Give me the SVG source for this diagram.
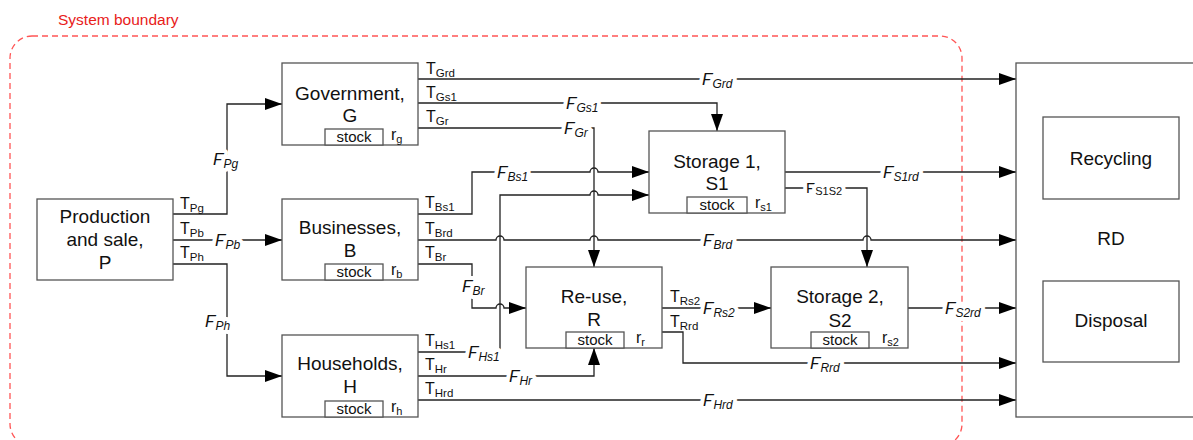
<svg xmlns="http://www.w3.org/2000/svg" width="1193" height="440" viewBox="0 0 1193 440">
<style>
text{font-family:"Liberation Sans",Arial,Helvetica,sans-serif;fill:#111}
.box{fill:#fff;stroke:#555;stroke-width:1.3}
.ttl{font-size:19px;text-anchor:middle}
.stk{font-size:15px;text-anchor:middle}
.t{font-size:16px}
.r{font-size:16px}
.f{font-size:17px;font-style:italic;stroke:#fff;stroke-width:8;paint-order:stroke;stroke-linejoin:round}
.ln{fill:none;stroke:#222;stroke-width:1.3}
.arr{marker-end:url(#ah)}
</style>
<defs>
<marker id="ah" markerUnits="userSpaceOnUse" markerWidth="18" markerHeight="12" refX="17" refY="6" orient="auto">
<path d="M0,0 L17,6 L0,12 Z" fill="#000"/>
</marker>
</defs>
<g id="boundary">
<rect x="10" y="36" width="952" height="410" rx="22" fill="none" stroke="#f55" stroke-width="1.3" stroke-dasharray="6,4"/>
<text x="58" y="25" font-size="15.5px" style="fill:#e8201a">System boundary</text>
</g>
<g id="connectors">
<path class="ln arr" d="M173,214 H227 V104 H282"/>
<path class="ln arr" d="M173,240 H282"/>
<path class="ln arr" d="M173,264 H227 V376 H282"/>
<path class="ln arr" d="M418,79 H1016"/>
<path class="ln arr" d="M418,103 H717 V131"/>
<path class="ln arr" d="M418,128 H594 V267"/>
<path class="ln arr" d="M418,214 H472 V172 H590 A4,4 0 0 1 598,172 H649"/>
<path class="ln arr" d="M418,240 H496 A4,4 0 0 1 504,240 H590 A4,4 0 0 1 598,240 H863 A4,4 0 0 1 871,240 H1016"/>
<path class="ln arr" d="M418,264 H472 V308 H496 A4,4 0 0 1 504,308 H526"/>
<path class="ln arr" d="M418,352 H500 V195 H590 A4,4 0 0 1 598,195 H649"/>
<path class="ln arr" d="M418,376 H594 V348"/>
<path class="ln arr" d="M418,400 H1016"/>
<path class="ln arr" d="M662,308 H771"/>
<path class="ln arr" d="M662,332 H683 V363 H1016"/>
<path class="ln arr" d="M785,172 H1016"/>
<path class="ln arr" d="M785,188 H867 V267"/>
<path class="ln arr" d="M908,308 H1016"/>
<!-- flow labels -->
<text class="f" x="213" y="165">F<tspan font-size="12" dy="3">Pg</tspan></text>
<text class="f" x="215" y="246">F<tspan font-size="12" dy="3">Pb</tspan></text>
<text class="f" x="205" y="327">F<tspan font-size="12" dy="3">Ph</tspan></text>
<text class="f" x="702" y="85">F<tspan font-size="12" dy="3">Grd</tspan></text>
<text class="f" x="566" y="109">F<tspan font-size="12" dy="3">Gs1</tspan></text>
<text class="f" x="564" y="134">F<tspan font-size="12" dy="3">Gr</tspan></text>
<text class="f" x="497" y="178">F<tspan font-size="12" dy="3">Bs1</tspan></text>
<text class="f" x="703" y="246">F<tspan font-size="12" dy="3">Brd</tspan></text>
<text class="f" x="462" y="292">F<tspan font-size="12" dy="3">Br</tspan></text>
<text class="f" x="468" y="358">F<tspan font-size="12" dy="3">Hs1</tspan></text>
<text class="f" x="509" y="382">F<tspan font-size="12" dy="3">Hr</tspan></text>
<text class="f" x="703" y="406">F<tspan font-size="12" dy="3">Hrd</tspan></text>
<text class="f" x="703" y="314">F<tspan font-size="12" dy="3">Rs2</tspan></text>
<text class="f" x="810" y="369">F<tspan font-size="12" dy="3">Rrd</tspan></text>
<text class="f" x="883" y="178">F<tspan font-size="12" dy="3">S1rd</tspan></text>
<text class="f" x="945" y="314">F<tspan font-size="12" dy="3">S2rd</tspan></text>
<text x="806" y="193" font-size="15" style="stroke:#fff;stroke-width:8;paint-order:stroke;stroke-linejoin:round">F<tspan font-size="11" dy="2">S1S2</tspan></text>
<!-- transfer coefficient labels -->
<text class="t" x="180" y="209">T<tspan font-size="11.5" dy="3">Pg</tspan></text>
<text class="t" x="180" y="234">T<tspan font-size="11.5" dy="3">Pb</tspan></text>
<text class="t" x="180" y="258">T<tspan font-size="11.5" dy="3">Ph</tspan></text>
<text class="t" x="426" y="74">T<tspan font-size="11.5" dy="3">Grd</tspan></text>
<text class="t" x="426" y="98">T<tspan font-size="11.5" dy="3">Gs1</tspan></text>
<text class="t" x="426" y="122">T<tspan font-size="11.5" dy="3">Gr</tspan></text>
<text class="t" x="425" y="208">T<tspan font-size="11.5" dy="3">Bs1</tspan></text>
<text class="t" x="425" y="234">T<tspan font-size="11.5" dy="3">Brd</tspan></text>
<text class="t" x="425" y="258">T<tspan font-size="11.5" dy="3">Br</tspan></text>
<text class="t" x="425" y="346">T<tspan font-size="11.5" dy="3">Hs1</tspan></text>
<text class="t" x="425" y="370">T<tspan font-size="11.5" dy="3">Hr</tspan></text>
<text class="t" x="425" y="394">T<tspan font-size="11.5" dy="3">Hrd</tspan></text>
<text class="t" x="670" y="302">T<tspan font-size="11.5" dy="3">Rs2</tspan></text>
<text class="t" x="670" y="327">T<tspan font-size="11.5" dy="3">Rrd</tspan></text>
</g>
<g id="production">
<rect class="box" x="37" y="199" width="136" height="81"/>
<text class="ttl" x="105" y="223">Production</text>
<text class="ttl" x="105" y="246">and sale,</text>
<text class="ttl" x="105" y="269">P</text>
</g>
<g id="government">
<rect class="box" x="282" y="63" width="136" height="82"/>
<text class="ttl" x="350" y="100">Government,</text>
<text class="ttl" x="350" y="122">G</text>
<rect class="box" x="325" y="129" width="58" height="16"/>
<text class="stk" x="354" y="142">stock</text>
<text class="r" x="391" y="140">r<tspan font-size="11" dy="3">g</tspan></text>
</g>
<g id="businesses">
<rect class="box" x="282" y="199" width="136" height="81"/>
<text class="ttl" x="350" y="234">Businesses,</text>
<text class="ttl" x="350" y="257">B</text>
<rect class="box" x="325" y="264" width="58" height="16"/>
<text class="stk" x="354" y="277">stock</text>
<text class="r" x="391" y="275">r<tspan font-size="11" dy="3">b</tspan></text>
</g>
<g id="households">
<rect class="box" x="282" y="335" width="136" height="82"/>
<text class="ttl" x="350" y="370">Households,</text>
<text class="ttl" x="350" y="393">H</text>
<rect class="box" x="325" y="401" width="58" height="16"/>
<text class="stk" x="354" y="414">stock</text>
<text class="r" x="391" y="412">r<tspan font-size="11" dy="3">h</tspan></text>
</g>
<g id="storage1">
<rect class="box" x="649" y="131" width="136" height="82"/>
<text class="ttl" x="717" y="168">Storage 1,</text>
<text class="ttl" x="717" y="190">S1</text>
<rect class="box" x="687" y="197" width="60" height="16"/>
<text class="stk" x="717" y="210">stock</text>
<text class="r" x="755" y="208">r<tspan font-size="11" dy="3">s1</tspan></text>
</g>
<g id="reuse">
<rect class="box" x="526" y="267" width="136" height="81"/>
<text class="ttl" x="594" y="303">Re-use,</text>
<text class="ttl" x="594" y="326">R</text>
<rect class="box" x="566" y="332" width="58" height="16"/>
<text class="stk" x="595" y="345">stock</text>
<text class="r" x="636" y="343">r<tspan font-size="11" dy="3">r</tspan></text>
</g>
<g id="storage2">
<rect class="box" x="771" y="267" width="137" height="81"/>
<text class="ttl" x="840" y="303">Storage 2,</text>
<text class="ttl" x="840" y="327">S2</text>
<rect class="box" x="811" y="332" width="58" height="16"/>
<text class="stk" x="840" y="345">stock</text>
<text class="r" x="882" y="343">r<tspan font-size="11" dy="3">s2</tspan></text>
</g>
<g id="rd">
<rect class="box" x="1016" y="63" width="200" height="354"/>
<text class="ttl" x="1111" y="245">RD</text>
</g>
<g id="recycling">
<rect class="box" x="1043" y="117" width="136" height="82"/>
<text class="ttl" x="1111" y="165">Recycling</text>
</g>
<g id="disposal">
<rect class="box" x="1043" y="281" width="136" height="81"/>
<text class="ttl" x="1111" y="327">Disposal</text>
</g>
</svg>
